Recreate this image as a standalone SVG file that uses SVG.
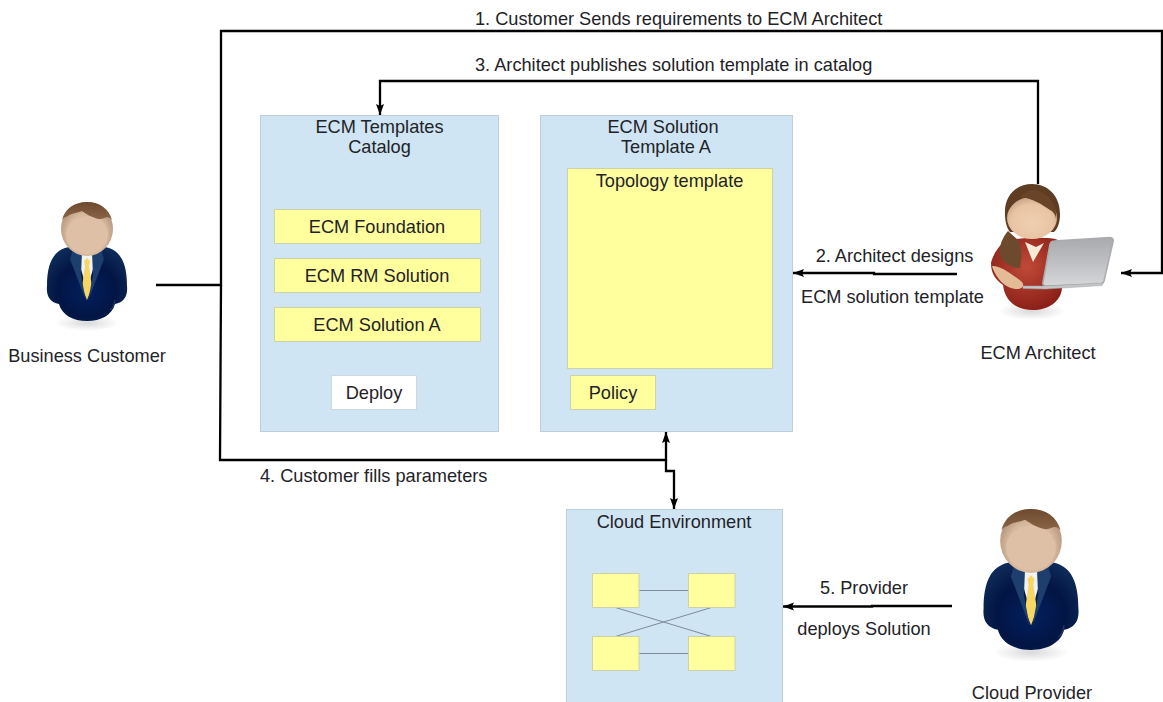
<svg xmlns="http://www.w3.org/2000/svg" width="1163" height="702" viewBox="0 0 1163 702">
<style>
text{font-family:"Liberation Sans",Arial,sans-serif;font-size:18.200px;fill:#1f2328}
.m{text-anchor:middle}
.box{fill:#cfe5f3;stroke:#bdcfdb;stroke-width:1}
.y{fill:#ffff9e;stroke:#cfd2a6;stroke-width:1}
.w{fill:#fff;stroke:#cfd6dc;stroke-width:1}
.c{fill:none;stroke:#000;stroke-width:2.300}
.t{fill:none;stroke:#7d8c99;stroke-width:1}
</style>
<defs>
<marker id="a" markerUnits="userSpaceOnUse" markerWidth="12" markerHeight="10" refX="11" refY="4" orient="auto"><path d="M0 0L11 4L0 8L2 4Z" fill="#000"/></marker>
<radialGradient id="suit" cx=".5" cy=".6" r=".6"><stop offset="0" stop-color="#04205f"/><stop offset=".6" stop-color="#021544"/><stop offset="1" stop-color="#0e2a58"/></radialGradient>
<radialGradient id="skin" cx=".5" cy=".6" r=".6"><stop offset="0" stop-color="#dfc2a7"/><stop offset=".65" stop-color="#d6b89d"/><stop offset="1" stop-color="#a88a72"/></radialGradient>
<radialGradient id="skinf" cx=".5" cy=".6" r=".6"><stop offset="0" stop-color="#efcfb0"/><stop offset=".7" stop-color="#e8c4a4"/><stop offset="1" stop-color="#c8a286"/></radialGradient>
<linearGradient id="hair" x1="0" y1="0" x2="0" y2="1"><stop offset="0" stop-color="#6d4a30"/><stop offset="1" stop-color="#8b6546"/></linearGradient>
<radialGradient id="sh"><stop offset="0" stop-color="#aaa" stop-opacity=".45"/><stop offset="1" stop-color="#aaa" stop-opacity="0"/></radialGradient>
<radialGradient id="red" cx=".5" cy=".4" r=".6"><stop offset="0" stop-color="#c04a38"/><stop offset="1" stop-color="#8c2018"/></radialGradient>
<linearGradient id="lap" x1="0" y1="0" x2="0" y2="1"><stop offset="0" stop-color="#a8aaad"/><stop offset=".55" stop-color="#bfc1c4"/><stop offset="1" stop-color="#d6d7d9"/></linearGradient>
<g id="man">
<ellipse cx="0" cy="121" rx="32" ry="8" fill="url(#sh)"/>
<path d="M-22 46C-33 50-40 60-40 84C-41 94-37 100-28 102C-25 113-14 119 0 119C14 119 25 113 28 102C37 100 41 94 40 84C40 60 33 50 22 46C10 42-10 42-22 46Z" fill="url(#suit)"/>
<path d="M-12 46L0 88L12 46Z" fill="#f1f2f3"/>
<path d="M-3 59L0 56L3 59L2 64L5 85L0 98L-5 85L-2 64Z" fill="#f7d764"/>
<path d="M-13 44L-17 57L-1 99L-6 73L-5 50ZM13 44L17 57L1 99L6 73L5 50Z" fill="#1c3f6e"/>
<path d="M23 108C26 106 27 103 28 98" fill="none" stroke="#3a5078" stroke-width=".7"/>
<ellipse cx="0" cy="27" rx="26" ry="27" fill="url(#skin)"/>
<ellipse cx="0" cy="33" rx="21" ry="19" fill="#dec0a6"/>
<path d="M-25 18C-22 6-12 0 0 0C13 0 22 7 25 18C20 12 17 18 12 17C5 16-2 11-5 9C-10 11-16 11-19 14C-21 15-23 15-25 18Z" fill="url(#hair)"/>
</g>
</defs>
<g id="connectors">
<path class="c" d="M156 285H221V31H1162V273H1121" marker-end="url(#a)"/>
<path class="c" d="M1038 184V81H380V115" marker-end="url(#a)"/>
<path class="c" d="M957 274H874V273H793" marker-end="url(#a)"/>
<path class="c" d="M221 285L220 460H666V432" marker-end="url(#a)"/>
<path class="c" d="M666 460V471H674V509" marker-end="url(#a)"/>
<path class="c" d="M952 606H872V606.500H783" marker-end="url(#a)"/>
</g>
<g id="catalog">
<rect class="box" x="260.500" y="115.500" width="238" height="316"/>
<text class="m" x="379.500" y="133">ECM Templates</text>
<text class="m" x="379.500" y="153">Catalog</text>
</g>
<g id="ecm-foundation"><rect class="y" x="274.500" y="209.500" width="206" height="34"/><text class="m" x="377" y="233">ECM Foundation</text></g>
<g id="ecm-rm"><rect class="y" x="274.500" y="258.500" width="206" height="34"/><text class="m" x="377" y="282">ECM RM Solution</text></g>
<g id="ecm-a"><rect class="y" x="274.500" y="307.500" width="206" height="34"/><text class="m" x="377" y="330.500">ECM Solution A</text></g>
<g id="deploy"><rect class="w" x="331.500" y="375.500" width="85" height="34"/><text class="m" x="374" y="399">Deploy</text></g>
<g id="template">
<rect class="box" x="540.500" y="115.500" width="252" height="316"/>
<text class="m" x="663" y="133">ECM Solution</text>
<text class="m" x="666" y="153">Template A</text>
</g>
<g id="topology"><rect class="y" x="567.500" y="168.500" width="205" height="200"/><text class="m" x="669.500" y="186.500">Topology template</text></g>
<g id="policy"><rect class="y" x="570.500" y="375.500" width="85" height="34"/><text class="m" x="613" y="399">Policy</text></g>
<g id="cloud">
<rect class="box" x="566.500" y="509.500" width="216" height="200"/>
<text class="m" x="674" y="527.500">Cloud Environment</text>
<path class="t" d="M639 590.500H688M639 653.500H688M615.500 607.500L711.500 636.500M615.500 636.500L711.500 607.500"/>
<rect class="y" x="592.500" y="573.500" width="46.500" height="34"/>
<rect class="y" x="688.500" y="573.500" width="46.500" height="34"/>
<rect class="y" x="592.500" y="636.500" width="46.500" height="34"/>
<rect class="y" x="688.500" y="636.500" width="46.500" height="34"/>
</g>
<g id="business-customer">
<use href="#man" x="87" y="202"/>
<text class="m" x="87" y="362">Business Customer</text>
</g>
<g id="cloud-provider">
<use href="#man" transform="translate(1031 509) scale(1.185)"/>
<text class="m" x="1032" y="699">Cloud Provider</text>
</g>
<g id="ecm-architect">
<ellipse cx="1032" cy="311" rx="34" ry="9" fill="url(#sh)"/>
<path d="M1006 241C1012 238 1050 236 1058 240L1062 288C1061 302 1048 310 1033 310C1017 310 1005 302 1003 285C996 280 991 274 991 263C993 254 1000 244 1006 241Z" fill="url(#red)"/>
<path d="M1025 242L1033 262L1044 243L1036 247Z" fill="#f3ead8"/>
<path d="M1008 231C1000 240 998 252 1001 258C1005 264 1012 268 1020 268C1022 256 1022 247 1018 240Z" fill="#6d4a2c"/>
<path d="M992 266C998 265 1010 272 1022 282C1025 286 1022 289 1017 289C1006 289 996 279 992 266Z" fill="#e3bb95"/>
<path d="M1005 214C1004 196 1016 184 1032 184C1048 184 1060 196 1060 214C1060 222 1058 228 1054 232H1010C1007 228 1005 222 1005 214Z" fill="#5f3d22"/>
<ellipse cx="1032" cy="218" rx="25" ry="21" fill="url(#skinf)"/>
<path d="M1020 198C1028 196 1042 204 1050 210C1054 212 1056 216 1056 220C1058 208 1050 192 1034 190C1028 190 1022 194 1020 198Z" fill="#6a4428"/>
<path d="M1054 241L1110 237.500Q1114 238 1113 242L1104 281Q1103 284 1100 284L1047 286Q1042 286 1043 282L1050 244Q1051 241 1054 241Z" fill="url(#lap)" stroke="#a9abae" stroke-width="1.500"/>
<path d="M1023 286L1047 286L1103 283L1102 285.500L1046 289L1023 288.500Z" fill="#c4c6c8" stroke="#9fa1a4" stroke-width=".5"/>
<text class="m" x="1038" y="358.500">ECM Architect</text>
</g>
<g id="labels">
<text x="475" y="25">1. Customer Sends requirements to ECM Architect</text>
<text x="475" y="71">3. Architect publishes solution template in catalog</text>
<text class="m" x="894.500" y="262">2. Architect designs</text>
<text class="m" x="892.500" y="302.500">ECM solution template</text>
<text x="260" y="482">4. Customer fills parameters</text>
<text class="m" x="864" y="594">5. Provider</text>
<text class="m" x="864" y="635">deploys Solution</text>
</g>
</svg>
